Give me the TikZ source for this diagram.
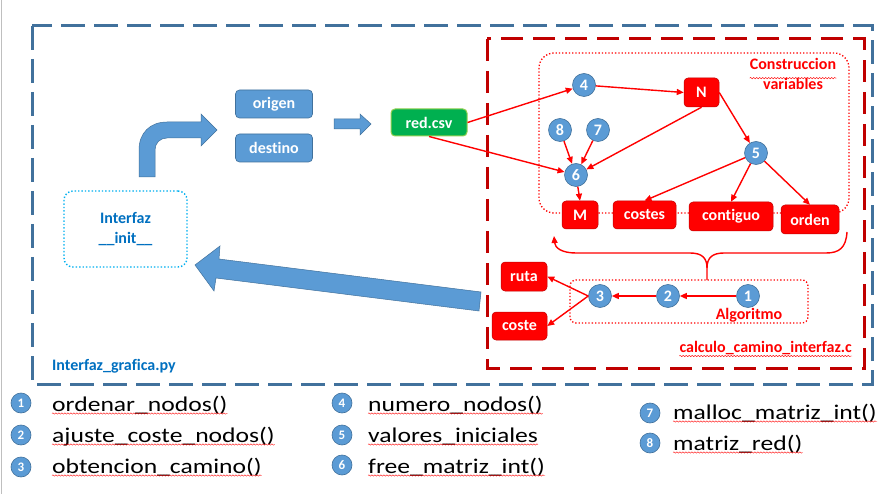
\documentclass[tikz,border=0pt]{standalone}
\usepackage{fontspec}
\setmainfont{Carlito}[Ligatures=NoCommon]
\usetikzlibrary{arrows.meta,decorations.pathmorphing,calc}
\definecolor{cblue}{HTML}{5B9BD5}
\definecolor{cbluedark}{HTML}{41719C}
\definecolor{cred}{HTML}{FF0000}
\definecolor{cdarkred}{HTML}{C00000}
\definecolor{cgreen}{HTML}{00B050}
\definecolor{cgreenb}{HTML}{92D050}
\definecolor{ctext}{HTML}{0070C0}
\definecolor{ccyan}{HTML}{00B0F0}
\begin{document}
\begin{tikzpicture}[x=1pt,y=-1pt,
  circ/.style={circle,fill=cblue,draw=cbluedark,line width=0.6pt,text=white,inner sep=0pt,minimum size=23pt,font=\fontsize{16}{16}\selectfont\bfseries},
  lcirc/.style={circle,fill=cblue,draw=cbluedark,line width=0.6pt,text=white,inner sep=0pt,minimum size=20pt,font=\fontsize{13}{13}\selectfont\bfseries},
  redbox/.style={rectangle,rounded corners=4pt,fill=cred,draw=cdarkred,line width=0.5pt,text=white,inner sep=0pt,font=\fontsize{16}{16}\selectfont\bfseries},
  bluebox/.style={rectangle,rounded corners=4pt,fill=cblue,draw=cbluedark,line width=0.6pt,text=white,inner sep=0pt,minimum width=77pt,minimum height=28pt,font=\fontsize{16}{16}\selectfont\bfseries},
  redline/.style={draw=cred,line width=1.4pt},
  redarrow/.style={redline,-{Triangle[length=7pt,width=6pt]}},
  blockarrow/.style={fill=cblue,draw=cbluedark,line width=0.5pt},
  legtext/.style={anchor=base west,inner sep=0pt,font=\fontsize{21}{24}\selectfont},
  wavy/.style={draw=cred,line width=0.4pt,decorate,decoration={snake,amplitude=0.7pt,segment length=3pt}},
  redlabel/.style={text=cred,font=\fontsize{16}{20}\selectfont\bfseries,inner sep=0pt}
]
\useasboundingbox (0,0) rectangle (888,494);
\fill[white] (0,0) rectangle (888,494);
\draw[gray!50,line width=1pt] (1,0) -- (1,494);

% outer frames
\draw[cbluedark,line width=3pt,dash pattern=on 24pt off 9pt] (32,26) rectangle (872,384);
\draw[cdarkred,line width=3pt,dash pattern=on 22pt off 10pt] (487,39) rectangle (864,368);

% dotted groups
\draw[cred,line width=1.3pt,dotted,rounded corners=15pt] (539,53) rectangle (849,213);
\draw[cred,line width=1.3pt,dotted,rounded corners=6pt] (570,280) rectangle (808,323);

% left side
\node[draw=ccyan,line width=1.4pt,dotted,rounded corners=9pt,minimum width=123pt,minimum height=76pt,
      text=ctext,font=\fontsize{16}{20}\selectfont\bfseries,align=center] (ui) at (125.5,229) {Interfaz\\\_\_init\_\_};
\node[bluebox] (origen) at (274,104) {origen};
\node[bluebox] (destino) at (274,148) {destino};
\node[rectangle,rounded corners=4pt,fill=cgreen,draw=cgreenb,line width=1pt,text=white,minimum width=76pt,minimum height=27pt,
      font=\fontsize{16}{16}\selectfont\bfseries] (csv) at (429,122.5) {red.csv};
\node[anchor=base west,text=ctext,font=\fontsize{16}{16}\selectfont\bfseries,inner sep=0pt] (pyname) at (52,370) {Interfaz\_grafica.py};

% block arrows
\draw[blockarrow] (139,177) -- (139,150) .. controls (139,133) and (150,122) .. (167,122) -- (201,122) -- (201,114)
   -- (217,130) -- (201,146) -- (201,138) -- (167,138) .. controls (160,138) and (155,143) .. (155,150) -- (155,177) -- cycle;
\draw[blockarrow] (334,119) -- (360,119) -- (360,114) -- (371,124) -- (360,135) -- (360,129) -- (334,129) -- cycle;
\draw[blockarrow] (481,292) -- (219,259) -- (220,246) -- (195,265) -- (214,291) -- (216,278) -- (479,311) -- cycle;

% construction nodes
\node[circ] (n4) at (584,85) {4};
\node[circ] (n8) at (560,130) {8};
\node[circ] (n7) at (598,130) {7};
\node[circ] (n6) at (576,175) {6};
\node[circ] (n5) at (756,153) {5};
\node[redbox,minimum width=35pt,minimum height=29pt] (N) at (701.5,92.5) {N};
\node[redbox,minimum width=36pt,minimum height=28pt] (M) at (580,215) {M};
\node[redbox,minimum width=63pt,minimum height=28pt] (costes) at (644.5,215) {costes};
\node[redbox,minimum width=84pt,minimum height=29pt] (contiguo) at (731,216.5) {contiguo};
\node[redbox,minimum width=58pt,minimum height=29pt] (orden) at (810,219.5) {orden};
\node[redlabel,align=center] (constr) at (793,74) {Construccion\\variables};

% algorithm nodes
\node[circ] (n1) at (748,296) {1};
\node[circ] (n2) at (668,296) {2};
\node[circ] (n3) at (600,296) {3};
\node[redbox,minimum width=46pt,minimum height=29pt] (ruta) at (524,276.5) {ruta};
\node[redbox,minimum width=55pt,minimum height=28pt] (coste) at (519.5,326) {coste};
\node[redlabel,anchor=base] (algo) at (749,319) {Algoritmo};
\node[redlabel,anchor=base east] (cname) at (852,352) {calculo\_camino\_interfaz.c};

% red connectors
\draw[redarrow] (csv.east) -- (n4);
\draw[redarrow] (csv.south) -- (n6);
\draw[redarrow] (n4) -- (N.west);
\draw[redarrow] (N.south) -- (n6);
\draw[redarrow] (N.east) -- (n5);
\draw[redarrow] (n8) -- (n6);
\draw[redarrow] (n7) -- (n6);
\draw[redarrow] (n6) -- (M.north);
\draw[redarrow] (n5) -- (costes.north);
\draw[redarrow] (n5) -- (contiguo.north);
\draw[redarrow] (n5) -- (orden.north);
\draw[redarrow] (n1) -- (n2);
\draw[redarrow] (n2) -- (n3);
\draw[redarrow] (n3.west) -- (ruta.east);
\draw[redarrow] (n3.west) -- (coste.east);

% brace
\coordinate (bl) at (554,236);
\coordinate (br) at (847,232);
\coordinate (bc) at (707,280);
\draw[redline,{Triangle[length=7pt,width=6pt]}-] (bl) .. controls (555,248) and (562,253) .. (576,253) -- (690,253)
   .. controls (702,253) and (707,258) .. (707,268) -- (bc);
\draw[redline] (br) .. controls (846,248) and (839,253) .. (826,253) -- (724,253)
   .. controls (712,253) and (707,258) .. (707,268);

% spell-check underlines
\draw[wavy] ($(constr.north west)+(0,20)$) -- ($(constr.north east)+(0,20)$);
\draw[wavy] ($(cname.base west)+(0,4)$) -- ($(cname.base east)+(0,4)$);

% legend
\node[lcirc] (l1) at (21,403) {1};
\node[lcirc] (l2) at (21,435) {2};
\node[lcirc] (l3) at (21,467) {3};
\node[lcirc] (l4) at (342,403) {4};
\node[lcirc] (l5) at (342,435) {5};
\node[lcirc] (l6) at (342,465) {6};
\node[lcirc] (l7) at (650,413) {7};
\node[lcirc] (l8) at (650,443) {8};
\node[legtext] (t1) at (52,411) {\scalebox{1.22}[1]{ordenar\_nodos()}};
\node[legtext] (t2) at (52,442) {\scalebox{1.22}[1]{ajuste\_coste\_nodos()}};
\node[legtext] (t3) at (52,473) {\scalebox{1.22}[1]{obtencion\_camino()}};
\node[legtext] (t4) at (368,411) {\scalebox{1.22}[1]{numero\_nodos()}};
\node[legtext] (t5) at (368,442) {\scalebox{1.22}[1]{valores\_iniciales}};
\node[legtext] (t6) at (368,473) {\scalebox{1.22}[1]{free\_matriz\_int()}};
\node[legtext] (t7) at (673,419) {\scalebox{1.22}[1]{malloc\_matriz\_int()}};
\node[legtext] (t8) at (673,450) {\scalebox{1.22}[1]{matriz\_red()}};
\foreach \t in {t1,t2,t3,t4,t5,t6,t7,t8}{
  \draw[wavy] ($(\t.base west)+(0,2.5)$) -- ($(\t.base east)+(0,2.5)$);
}
\end{tikzpicture}
\end{document}
